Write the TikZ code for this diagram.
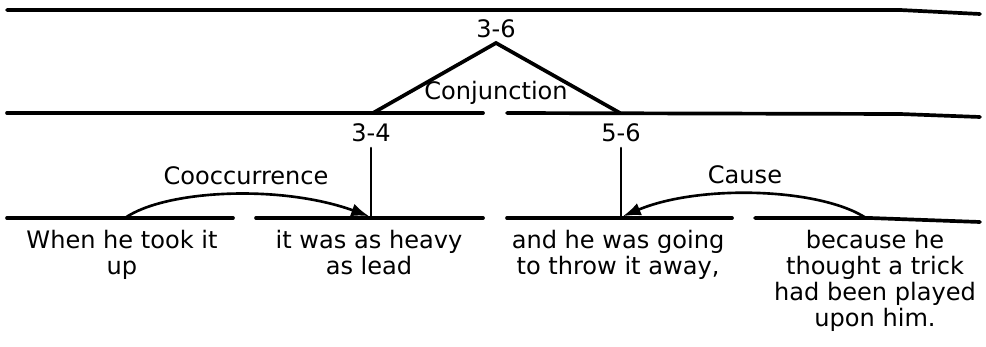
\documentclass[tikz,border=0pt]{standalone}
\usepackage{fontspec}
\setmainfont{DejaVu Sans}
\usetikzlibrary{arrows.meta}
\tikzset{
  span/.style={line width=2.1pt},
  lbl/.style={inner sep=0pt, anchor=base, font=\fontsize{13.7}{14.8}\selectfont},
  clause/.style={inner sep=0pt, anchor=north, align=center, font=\fontsize{13.7}{14.8}\selectfont},
  rel/.style={line width=1.5pt, -{Latex[length=0.36cm,width=0.26cm]}}
}

\begin{document}
\begin{tikzpicture}[x=0.02cm, y=-0.02cm, line cap=round]
      \useasboundingbox (0,0) rectangle (986,347);
      % span 3-6
      \draw[span] (7,10) -- (900,10) -- (980,14);
      % spans 3-4 and 5-6
      \draw[span] (7,113) -- (483,113);
      \draw[span] (507,113) -- (900,114) -- (980,117);
      % single clauses
      \draw[span] (7,218) -- (233,218);
      \draw[span] (256,218) -- (483,218);
      \draw[span] (507,218) -- (732,218);
      \draw[span] (755,218) -- (870,218) -- (980,222);
      \node[lbl] (s36) at (496,38) {3-6};
      \node[lbl] (conj) at (496,100) {Conjunction};
      \node[lbl] (s34) at (371,142) {3-4};
      \node[lbl] (s56) at (621,142) {5-6};
      \node[lbl] (cooc) at (246,185) {Cooccurrence};
      \node[lbl] (cause) at (745,184) {Cause};
      \node[clause] (c3) at (122,230) {When he took it\\up};
      \node[clause] (c4) at (369,230) {it was as heavy\\as lead};
      \node[clause] (c5) at (618,230) {and he was going\\to throw it away,};
      \node[clause] (c6) at (875,230) {because he\\thought a trick\\had been played\\upon him.};
      \coordinate (apex) at (496,43);
      \coordinate (foot34) at (373,113);
      \coordinate (foot56) at (620,113);
      \coordinate (leaf4) at (371,218);
      \coordinate (leaf5) at (621,218);
      \coordinate (from3) at (125,218);
      \coordinate (from6) at (866,218);
      % Conjunction: both halves under 3-6
      \draw[span] (foot34) -- (apex) -- (foot56);
      % nuclei
      \draw[line width=1.4pt, shorten <=3pt] (s34.south) -- (leaf4);
      \draw[line width=1.4pt, shorten <=3pt] (s56.south) -- (leaf5);
      % Cooccurrence: satellite 3 to nucleus 4
      \draw[rel] (from3) .. controls (165,190) and (280,184) .. ([xshift=-1pt,yshift=1pt]leaf4);
      % Cause: satellite 6 to nucleus 5
      \draw[rel] (from6) .. controls (820,188) and (700,184) .. ([xshift=1pt,yshift=1pt]leaf5);
\end{tikzpicture}
\end{document}
